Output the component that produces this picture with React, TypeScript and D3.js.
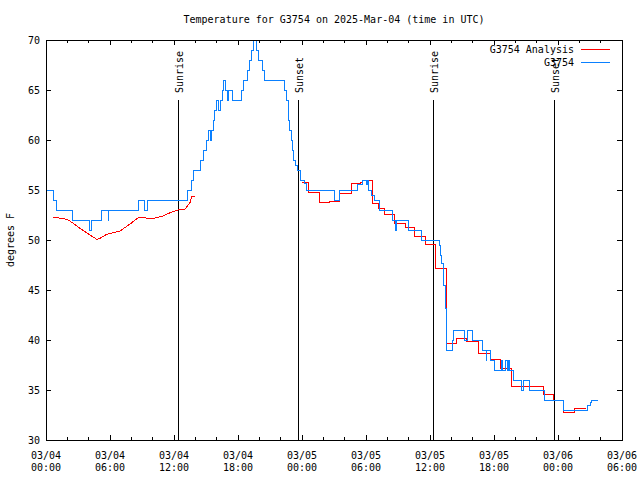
import { useEffect, useRef } from "react";
import * as d3 from "d3";

const title = "Temperature for G3754 on 2025-Mar-04 (time in UTC)";
const yLabel = "degrees F";
const startTime = new Date(Date.UTC(2025, 2, 4, 0, 0));
const endTime = new Date(Date.UTC(2025, 2, 6, 6, 0));
const yTicks = [30, 35, 40, 45, 50, 55, 60, 65, 70];

// hours after 03/04 00:00 UTC, degrees F
const stationObs: [number, number][] = [
  [0.05, 55], [0.68, 54], [1.0, 53], [2.5, 52], [4.1, 51], [4.3, 52],
  [5.22, 53], [5.84, 52], [5.9, 53], [8.69, 54], [9.19, 53], [9.5, 54],
  [13.25, 55], [13.66, 56], [13.81, 57], [14.44, 58], [14.81, 59], [15.0, 60],
  [15.22, 61], [15.38, 60], [15.56, 61], [15.66, 62], [15.75, 63], [15.94, 64],
  [16.17, 63], [16.36, 64], [16.53, 65], [16.62, 66], [16.81, 65], [16.97, 64],
  [17.13, 65], [17.53, 64], [18.35, 65], [18.5, 66], [18.87, 67], [19.06, 68],
  [19.28, 69], [19.43, 70], [19.69, 69], [19.92, 68], [20.25, 67], [20.5, 66],
  [22.36, 65], [22.56, 64], [22.69, 63], [22.78, 62], [22.87, 61], [22.97, 60],
  [23.11, 59], [23.2, 58], [23.4, 57.5], [23.6, 57], [23.85, 56], [24.28, 55.7],
  [24.44, 55], [27.03, 54], [27.56, 55], [29.22, 55.6], [29.65, 56], [30.06, 55.6],
  [30.16, 56], [30.23, 55], [30.47, 54.5], [30.84, 54], [31.31, 53], [32.5, 52],
  [32.76, 51], [32.88, 52], [33.97, 51], [35.22, 50], [36.87, 49.5], [37.0, 48.5],
  [37.1, 47.7], [37.25, 46.5], [37.31, 45.5], [37.41, 43.2], [37.5, 41.7], [37.56, 39],
  [38.13, 40], [38.19, 41], [39.22, 40], [39.47, 41], [40.0, 40], [40.94, 39],
  [41.25, 38], [41.31, 39], [41.69, 38], [42.09, 37], [42.72, 38], [42.84, 37],
  [43.12, 38], [43.22, 37], [43.34, 38], [43.44, 37], [43.81, 36], [44.62, 35],
  [44.75, 36], [45.31, 35], [46.78, 34], [48.56, 33], [50.81, 33.5], [51.0, 33.8],
  [51.16, 34], [51.72, 34],
];

const analysisMorning: [number, number][] = [
  [0.68, 52.27], [1.5, 52.17], [2.09, 52.0], [2.56, 51.67], [3.19, 51.17],
  [4.13, 50.5], [4.75, 50.07], [5.06, 50.17], [5.69, 50.57], [6.94, 50.9],
  [7.88, 51.6], [8.65, 52.23], [10.06, 52.17], [11.0, 52.4], [11.63, 52.73],
  [12.56, 53.07], [13.03, 53.1], [13.5, 53.73], [13.66, 54.4], [13.97, 54.4],
];

const analysisNight: [number, number][] = [
  [23.97, 55.8], [24.59, 54.8], [25.62, 53.8], [26.62, 53.9], [27.56, 54.7],
  [28.66, 55.7], [29.44, 55.8], [29.69, 56], [30.63, 53.7], [31.15, 53.2],
  [31.72, 52.6], [32.65, 51.7], [33.66, 51.3], [34.59, 50.4], [35.6, 49.6],
  [36.53, 47.2], [37.5, 43.3], [37.56, 39.7], [38.5, 40.2], [39.44, 39.9],
  [40.53, 38.7], [41.63, 38.1], [42.63, 37.2], [43.66, 35.4], [46.62, 34.6],
  [47.56, 34], [48.56, 32.8], [49.59, 33.2], [50.63, 33.2],
];

const sunEvents: [number, string][] = [
  [12.37, "Sunrise"],
  [23.65, "Sunset"],
  [36.31, "Sunrise"],
  [47.62, "Sunset"],
];

const legendItems: [string, string][] = [
  ["G3754 Analysis", "#ff0000"],
  ["G3754", "#0a80ff"],
];

const toDate = (h: number) => new Date(startTime.getTime() + h * 3600e3);

export default function App() {
  const svgRef = useRef<SVGSVGElement>(null);

  useEffect(() => {
    document.body.style.margin = "0";
    if (!svgRef.current) return;
    const svg = d3.select(svgRef.current);
    svg.selectAll("*").remove();

    const left = 46;
    const right = 622;
    const top = 40;
    const bottom = 440;
    const font = "'DejaVu Sans Mono', monospace";

    const x = d3.scaleUtc().domain([startTime, endTime]).range([left, right]);
    const y = d3.scaleLinear().domain([30, 70]).range([bottom, top]);

    svg.append("rect").attr("width", 640).attr("height", 480).attr("fill", "white");

    const g = svg.append("g").attr("font-family", font).attr("font-size", 10);

    // ticks on all four sides
    const major = d3.utcHour.every(6)!.range(startTime, new Date(endTime.getTime() + 1));
    const minor = d3.utcHour.every(2)!.range(startTime, new Date(endTime.getTime() + 1));
    const tickG = g.append("g").attr("stroke", "black").attr("shape-rendering", "crispEdges");
    minor.forEach((d) => {
      const len = major.some((m) => +m === +d) ? 5 : 3;
      tickG.append("line").attr("x1", x(d)).attr("x2", x(d)).attr("y1", bottom).attr("y2", bottom - len);
      tickG.append("line").attr("x1", x(d)).attr("x2", x(d)).attr("y1", top).attr("y2", top + len);
    });
    yTicks.forEach((t) => {
      tickG.append("line").attr("x1", left).attr("x2", left + 5).attr("y1", y(t)).attr("y2", y(t));
      tickG.append("line").attr("x1", right).attr("x2", right - 5).attr("y1", y(t)).attr("y2", y(t));
    });

    const fmtDay = d3.utcFormat("%m/%d");
    const fmtTime = d3.utcFormat("%H:%M");
    major.forEach((d) => {
      const t = g.append("text").attr("text-anchor", "middle").attr("x", x(d));
      t.append("tspan").attr("x", x(d)).attr("y", 459).text(fmtDay(d));
      t.append("tspan").attr("x", x(d)).attr("y", 471).text(fmtTime(d));
    });
    yTicks.forEach((t) => {
      g.append("text")
        .attr("x", 40)
        .attr("y", y(t) + 4)
        .attr("text-anchor", "end")
        .text(t);
    });

    // sunrise / sunset markers
    sunEvents.forEach(([h, label]) => {
      const sx = Math.round(x(toDate(h)));
      g.append("line")
        .attr("x1", sx + 0.5)
        .attr("x2", sx + 0.5)
        .attr("y1", 100)
        .attr("y2", bottom)
        .attr("stroke", "black");
      g.append("text")
        .attr("transform", `translate(${sx + 5},93) rotate(-90)`)
        .attr("text-anchor", "start")
        .text(label);
    });

    const line = (curve: d3.CurveFactory) =>
      d3
        .line<[number, number]>()
        .x((d) => x(toDate(d[0])))
        .y((d) => y(d[1]))
        .curve(curve);

    const series: [[number, number][], d3.CurveFactory, string][] = [
      [analysisMorning, d3.curveLinear, legendItems[0][1]],
      [analysisNight, d3.curveStepAfter, legendItems[0][1]],
      [stationObs, d3.curveStepAfter, legendItems[1][1]],
    ];
    series.forEach(([data, curve, color]) => {
      g.append("path")
        .attr("d", line(curve)(data))
        .attr("fill", "none")
        .attr("stroke", color)
        .attr("stroke-width", 1)
        .attr("shape-rendering", "crispEdges");
    });

    // border
    g.append("rect")
      .attr("x", left + 0.5)
      .attr("y", top + 0.5)
      .attr("width", right - left)
      .attr("height", bottom - top)
      .attr("fill", "none")
      .attr("stroke", "black");

    // legend
    legendItems.forEach(([name, color], i) => {
      const ly = 49 + i * 13;
      g.append("text").attr("x", 574).attr("y", ly + 4).attr("text-anchor", "end").text(name);
      g.append("line")
        .attr("x1", 581)
        .attr("x2", 610)
        .attr("y1", ly + 0.5)
        .attr("y2", ly + 0.5)
        .attr("stroke", color)
        .attr("shape-rendering", "crispEdges");
    });

    g.append("text")
      .attr("x", 334)
      .attr("y", 23)
      .attr("text-anchor", "middle")
      .text(title);
    g.append("text")
      .attr("transform", "translate(14,240) rotate(-90)")
      .attr("text-anchor", "middle")
      .text(yLabel);
  }, []);

  return <svg ref={svgRef} width={640} height={480} style={{ display: "block" }} />;
}
